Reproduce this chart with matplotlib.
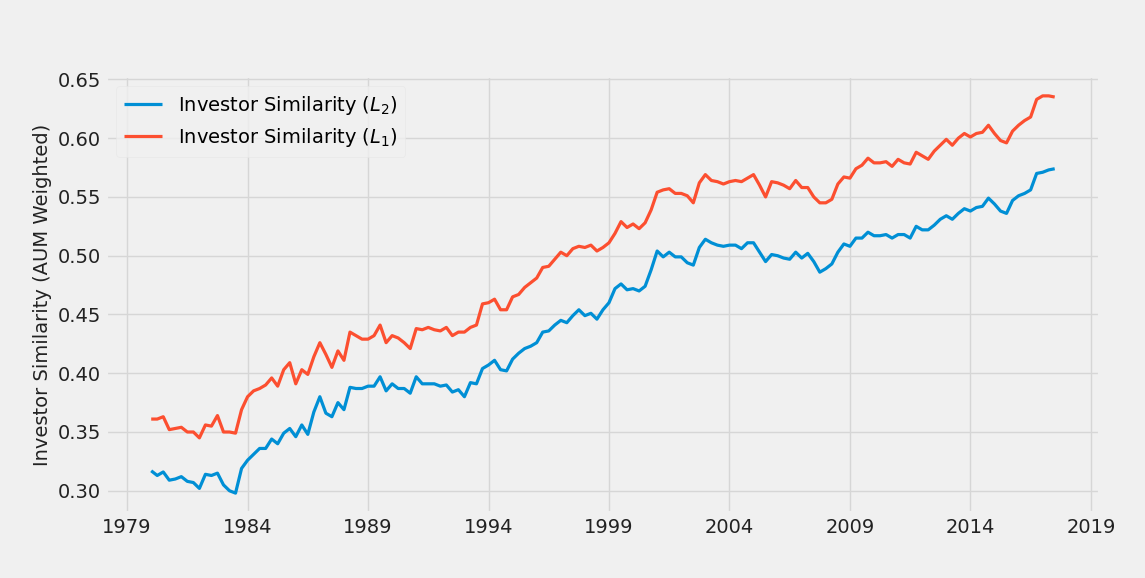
import matplotlib
matplotlib.use("Agg")
import matplotlib.pyplot as plt
import numpy as np

plt.style.use('fivethirtyeight')

## Investor similarity over time, quarterly 1980 - 2017 ##
quarters = np.arange(1980.0, 2017.51, 0.25)

similarity_l2 = [
    0.317, 0.313, 0.316, 0.309, 0.310, 0.312, 0.308, 0.307, 0.302, 0.314,
    0.313, 0.315, 0.305, 0.300, 0.298, 0.319, 0.326, 0.331, 0.336, 0.336,
    0.344, 0.340, 0.349, 0.353, 0.346, 0.356, 0.348, 0.367, 0.380, 0.366,
    0.363, 0.375, 0.369, 0.388, 0.387, 0.387, 0.389, 0.389, 0.397, 0.385,
    0.391, 0.387, 0.387, 0.383, 0.397, 0.391, 0.391, 0.391, 0.389, 0.390,
    0.384, 0.386, 0.380, 0.392, 0.391, 0.404, 0.407, 0.411, 0.403, 0.402,
    0.412, 0.417, 0.421, 0.423, 0.426, 0.435, 0.436, 0.441, 0.445, 0.443,
    0.449, 0.454, 0.449, 0.451, 0.446, 0.454, 0.460, 0.472, 0.476, 0.471,
    0.472, 0.470, 0.474, 0.488, 0.504, 0.499, 0.503, 0.499, 0.499, 0.494,
    0.492, 0.507, 0.514, 0.511, 0.509, 0.508, 0.509, 0.509, 0.506, 0.511,
    0.511, 0.503, 0.495, 0.501, 0.500, 0.498, 0.497, 0.503, 0.498, 0.502,
    0.495, 0.486, 0.489, 0.493, 0.503, 0.510, 0.508, 0.515, 0.515, 0.520,
    0.517, 0.517, 0.518, 0.515, 0.518, 0.518, 0.515, 0.525, 0.522, 0.522,
    0.526, 0.531, 0.534, 0.531, 0.536, 0.540, 0.538, 0.541, 0.542, 0.549,
    0.544, 0.538, 0.536, 0.547, 0.551, 0.553, 0.556, 0.570, 0.571, 0.573,
    0.574]

similarity_l1 = [
    0.361, 0.361, 0.363, 0.352, 0.353, 0.354, 0.350, 0.350, 0.345, 0.356,
    0.355, 0.364, 0.350, 0.350, 0.349, 0.369, 0.380, 0.385, 0.387, 0.390,
    0.396, 0.389, 0.403, 0.409, 0.391, 0.403, 0.399, 0.414, 0.426, 0.416,
    0.405, 0.419, 0.411, 0.435, 0.432, 0.429, 0.429, 0.432, 0.441, 0.426,
    0.432, 0.430, 0.426, 0.421, 0.438, 0.437, 0.439, 0.437, 0.436, 0.439,
    0.432, 0.435, 0.435, 0.439, 0.441, 0.459, 0.460, 0.463, 0.454, 0.454,
    0.465, 0.467, 0.473, 0.477, 0.481, 0.490, 0.491, 0.497, 0.503, 0.500,
    0.506, 0.508, 0.507, 0.509, 0.504, 0.507, 0.511, 0.519, 0.529, 0.524,
    0.527, 0.523, 0.528, 0.539, 0.554, 0.556, 0.557, 0.553, 0.553, 0.551,
    0.545, 0.562, 0.569, 0.564, 0.563, 0.561, 0.563, 0.564, 0.563, 0.566,
    0.569, 0.560, 0.550, 0.563, 0.562, 0.560, 0.557, 0.564, 0.558, 0.558,
    0.550, 0.545, 0.545, 0.548, 0.561, 0.567, 0.566, 0.574, 0.577, 0.583,
    0.579, 0.579, 0.580, 0.576, 0.582, 0.579, 0.578, 0.588, 0.585, 0.582,
    0.589, 0.594, 0.599, 0.594, 0.600, 0.604, 0.601, 0.604, 0.605, 0.611,
    0.604, 0.598, 0.596, 0.606, 0.611, 0.615, 0.618, 0.633, 0.636, 0.636,
    0.635]

year_ticks = np.arange(1979, 2020, 5)
y_ticks = [0.30, 0.35, 0.40, 0.45, 0.50, 0.55, 0.60, 0.65]

fig = plt.figure(figsize=(11.45, 5.78), dpi=100)
ax = fig.add_axes([0.0926, 0.1125, 0.868, 0.756])

ax.plot(quarters, similarity_l2, color='#008fd5', linewidth=2.3,
        label=r'Investor Similarity ($L_2$)')
ax.plot(quarters, similarity_l1, color='#fc4f30', linewidth=2.3,
        label=r'Investor Similarity ($L_1$)')

ax.set_xticks(year_ticks)
ax.set_yticks(y_ticks)
ax.set_yticklabels([f"{t:.2f}" for t in y_ticks])
ax.tick_params(labelsize=14, labelcolor='#222222')
ax.set_ylabel('Investor Similarity (AUM Weighted)', fontsize=14, color='#222222')

# lighter grid, like the reference
ax.grid(color='#d6d6d6', linewidth=1.0)

leg = ax.legend(loc='upper left', fontsize=14)
leg.get_frame().set_edgecolor('#e6e6e6')
leg.get_frame().set_facecolor('#f0f0f0')

plt.savefig('out.png', dpi=100)
